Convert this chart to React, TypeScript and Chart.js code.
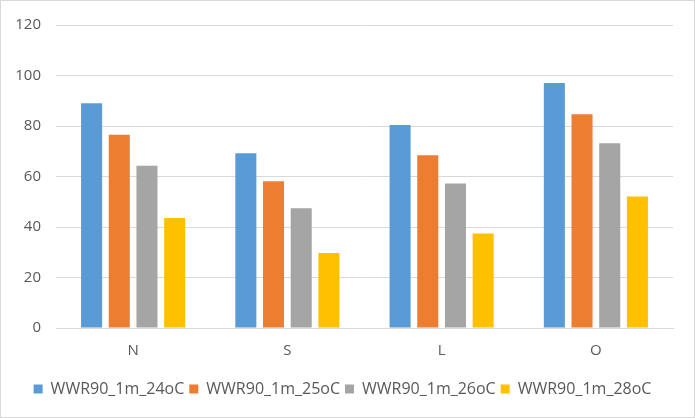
import React, { useEffect, useRef } from "react";
import { Chart, registerables } from "chart.js";

Chart.register(...registerables);

const categories = ["N", "S", "L", "O"];
const seriesNames = ["WWR90_1m_24oC", "WWR90_1m_25oC", "WWR90_1m_26oC", "WWR90_1m_28oC"];
const series24 = [89.0, 69.2, 80.4, 97.0];
const series25 = [76.5, 58.1, 68.4, 84.7];
const series26 = [64.3, 47.4, 57.2, 73.2];
const series28 = [43.6, 29.7, 37.4, 52.1];
const colors = ["#5b9bd5", "#ed7d31", "#a5a5a5", "#ffc000"];
const yTicks = [0, 20, 40, 60, 80, 100, 120];

export default function App() {
  const ref = useRef<HTMLCanvasElement | null>(null);

  useEffect(() => {
    document.body.style.margin = "0";
    const ctx = ref.current;
    if (!ctx) return;
    const allSeries = [series24, series25, series26, series28];
    const family = "'Open Sans', 'Liberation Sans', sans-serif";
    const tickFont = { family, size: 15 };
    const legendFont = { family, size: 16 };
    const chart = new Chart(ctx, {
      type: "bar",
      data: {
        labels: categories,
        datasets: allSeries.map((d, i) => ({
          label: seriesNames[i],
          data: d,
          backgroundColor: colors[i],
          borderWidth: 0,
          categoryPercentage: 0.718,
          barPercentage: 0.76,
        })),
      },
      options: {
        animation: false,
        responsive: false,
        maintainAspectRatio: false,
        layout: { autoPadding: false, padding: { top: 20, left: 11, right: 21, bottom: 10 } },
        plugins: {
          tooltip: { enabled: false },
          legend: {
            position: "bottom",
            labels: {
              boxWidth: 9,
              boxHeight: 9,
              padding: 5,
              color: "#595959",
              font: legendFont,
            },
          },
        },
        scales: {
          x: {
            grid: { display: false, drawTicks: false },
            border: { color: "#d9d9d9" },
            ticks: { color: "#595959", padding: 14, font: tickFont },
            afterFit: (scale: any) => {
              scale.height = 48;
            },
          },
          y: {
            min: 0,
            max: 120,
            afterBuildTicks: (scale: any) => {
              scale.ticks = yTicks.map((v) => ({ value: v }));
            },
            grid: { color: "#d9d9d9", drawTicks: false },
            border: { display: false },
            ticks: { color: "#595959", padding: 15, font: tickFont },
            afterFit: (scale: any) => {
              scale.width = 44;
            },
          },
        },
      },
    });
    return () => chart.destroy();
  }, []);

  return (
    <div
      style={{
        width: 695,
        height: 418,
        boxSizing: "border-box",
        border: "1px solid #d9d9d9",
        background: "#fff",
        position: "relative",
      }}
    >
      <canvas ref={ref} width={693} height={416} style={{ display: "block" }} />
    </div>
  );
}
